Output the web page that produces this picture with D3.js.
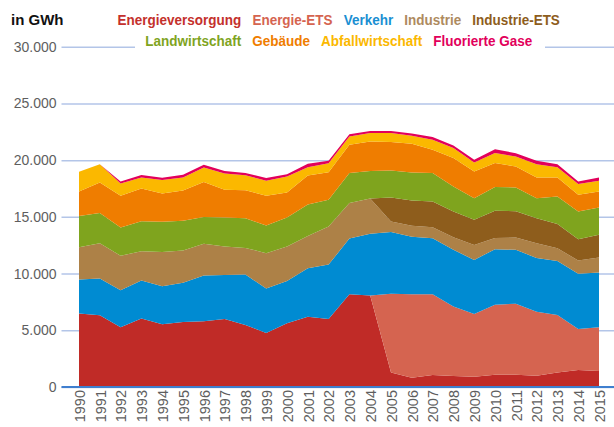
<!DOCTYPE html>
<html>
<head>
<meta charset="utf-8">
<script src="https://cdn.jsdelivr.net/npm/d3@7"></script>
<style>
  html, body { margin: 0; padding: 0; background: #fff; }
  svg { display: block; }
  .bold { font-family: "Liberation Sans", Arial, sans-serif; font-weight: bold; }
  .tick text { font-family: "Liberation Sans", Arial, sans-serif; fill: #5e5e5e; }
</style>
</head>
<body>
<svg id="chart" width="614" height="427"></svg>
<script>
// Treibhausgas-Emissionen nach Sektoren, in GWh (gestapelte Flächen)
const years = [1990, 1991, 1992, 1993, 1994, 1995, 1996, 1997, 1998, 1999, 2000, 2001, 2002,
               2003, 2004, 2005, 2006, 2007, 2008, 2009, 2010, 2011, 2012, 2013, 2014, 2015];

const energieversorgung = [6470, 6330, 5270, 6030, 5530, 5740, 5800, 6000, 5470, 4770, 5620, 6200, 6000,
                           8180, 8060, 1270, 820, 1060, 970, 910, 1090, 1090, 1000, 1270, 1500, 1410];
const energieEts        = [0, 0, 0, 0, 0, 0, 0, 0, 0, 0, 0, 0, 0,
                           0, 0, 6940, 7360, 7120, 6120, 5530, 6150, 6260, 5640, 5080, 3620, 3860];
const verkehr           = [3000, 3230, 3265, 3350, 3356, 3440, 4020, 3880, 4440, 3910, 3730, 4270, 4790,
                           4910, 5440, 5445, 5056, 4941, 5003, 4766, 4914, 4739, 4739, 4765, 4853, 4821];
const industrie         = [2860, 3120, 3026, 2590, 3026, 2850, 2800, 2500, 2350, 3120, 3030, 2850, 3350,
                           3124, 3116, 938, 971, 968, 1117, 1323, 971, 1089, 1297, 1121, 1177, 1324];
const industrieEts      = [0, 0, 0, 0, 0, 0, 0, 0, 0, 0, 0, 0, 0,
                           0, 0, 2117, 2235, 2265, 2266, 2206, 2409, 2322, 2206, 2144, 1882, 2000];
const landwirtschaft    = [2736, 2670, 2500, 2650, 2650, 2620, 2360, 2560, 2620, 2440, 2560, 2760, 2360,
                           2647, 2418, 2383, 2468, 2503, 2208, 1912, 2090, 2090, 1762, 2412, 2442, 2412];
const gebaeude          = [2170, 2670, 2800, 2870, 2500, 2670, 3090, 2440, 2470, 2620, 2200, 2560, 2440,
                           2497, 2611, 2501, 2532, 2055, 2500, 2350, 2119, 1854, 1820, 1673, 1470, 1408];
const abfallwirtschaft  = [1740, 1620, 1085, 970, 1180, 1150, 1290, 1440, 1320, 1320, 1410, 740, 790,
                           732, 741, 796, 706, 883, 880, 802, 882, 883, 1183, 918, 944, 945];
const fluorierteGase    = [0, 0, 180, 240, 210, 240, 240, 220, 200, 240, 210, 300, 220,
                           200, 180, 180, 200, 235, 220, 230, 330, 290, 290, 265, 230, 290];

const seriesNames  = ["Energieversorgung", "Energie-ETS", "Verkehr", "Industrie", "Industrie-ETS",
                      "Landwirtschaft", "Gebäude", "Abfallwirtschaft", "Fluorierte Gase"];
const seriesValues = [energieversorgung, energieEts, verkehr, industrie, industrieEts,
                      landwirtschaft, gebaeude, abfallwirtschaft, fluorierteGase];
const seriesColors = ["#c02b27", "#d56450", "#008bd2", "#ad8147", "#8e5d1c",
                      "#7fa41e", "#ef7d00", "#fbb800", "#e2005b"];
const legendColors = ["#c4302c", "#d56450", "#1a8fd2", "#ae8a5e", "#8e5d1c",
                      "#7fa41e", "#ef7d00", "#fbb800", "#e2005b"];
const legendRows   = [[0, 1, 2, 3, 4], [5, 6, 7, 8]];
const yTicks = [0, 5000, 10000, 15000, 20000, 25000, 30000];

// Tabelle für d3.stack
const table = years.map((yr, i) => {
  const row = { year: yr };
  seriesNames.forEach((n, k) => { row[n] = seriesValues[k][i]; });
  return row;
});

const svg = d3.select("#chart");
const W = 614;

const x = d3.scaleLinear().domain([1990, 2015]).range([79, 599]);
const y = d3.scaleLinear().domain([0, 30000]).range([387, 46.7]);

const de = d3.formatLocale({ decimal: ",", thousands: ".", grouping: [3], currency: ["", " €"] });
const fmt = de.format(",d");

// Gitterlinien und y-Beschriftung
const gridX = 61.5;
const yAxis = svg.append("g")
  .attr("transform", `translate(${gridX},0)`)
  .call(d3.axisLeft(y).tickValues(yTicks).tickFormat(fmt).tickSize(-(W - gridX)).tickPadding(5));
yAxis.select(".domain").remove();
yAxis.selectAll(".tick line").attr("stroke", "#b3c5e8").attr("stroke-width", 1.5);
yAxis.selectAll(".tick text").attr("font-size", 14);

// Flächen
const stack = d3.stack().keys(seriesNames);
const layers = stack(table);
const area = d3.area()
  .x(d => x(d.data.year))
  .y0(d => y(d[0]))
  .y1(d => y(d[1]));

svg.append("g").selectAll("path")
  .data(layers)
  .join("path")
  .attr("d", area)
  .attr("fill", (d, i) => seriesColors[i]);

// Nulllinie
svg.append("line")
  .attr("x1", gridX).attr("x2", W)
  .attr("y1", y(0)).attr("y2", y(0))
  .attr("stroke", "#3f7fcf").attr("stroke-width", 2);

// x-Achse mit senkrechten Jahreszahlen
const xAxis = svg.append("g")
  .attr("transform", `translate(0,${y(0)})`)
  .call(d3.axisBottom(x).tickValues(years).tickFormat(d3.format("d")).tickSize(0));
xAxis.select(".domain").remove();
xAxis.selectAll(".tick text")
  .attr("font-size", 14.5)
  .attr("transform", "rotate(-90)")
  .attr("x", -3).attr("y", 0).attr("dy", "0.36em")
  .style("text-anchor", "end");

// Titel
svg.append("text")
  .attr("class", "bold")
  .attr("x", 11).attr("y", 25)
  .attr("font-size", 15)
  .attr("fill", "#111")
  .text("in GWh");

// Legende (schmal gesetzte Beschriftung)
const legendCenter = 338.8;
const rowBaselines = [25, 45.7];
const gap = 11;
const squeeze = 0.9;
const legend = svg.append("g");
legend.append("rect")
  .attr("x", 135).attr("y", 33).attr("width", 410).attr("height", 18)
  .attr("fill", "#fff");
legendRows.forEach((row, r) => {
  const g = legend.append("g");
  const texts = row.map(k => g.append("text")
    .attr("class", "bold")
    .attr("font-size", 15)
    .attr("fill", legendColors[k])
    .text(seriesNames[k]));
  const widths = texts.map(t => t.node().getComputedTextLength() * squeeze);
  const total = d3.sum(widths) + gap * (widths.length - 1);
  let cx = legendCenter - total / 2;
  texts.forEach((t, i) => {
    t.attr("transform", `translate(${cx},${rowBaselines[r]}) scale(${squeeze},1)`);
    cx += widths[i] + gap;
  });
});
</script>
</body>
</html>
